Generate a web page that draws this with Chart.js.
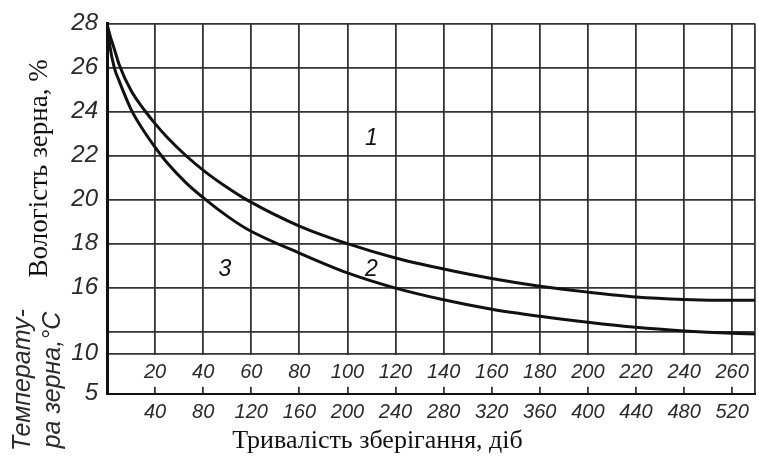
<!DOCTYPE html>
<html>
<head>
<meta charset="utf-8">
<script src="https://cdn.jsdelivr.net/npm/chart.js@4/dist/chart.umd.min.js"></script>
<style>
  html, body { margin: 0; padding: 0; background: #fff; }
  #chart { display: block; }
</style>
</head>
<body>
<canvas id="chart" width="759" height="467"></canvas>
<script>
// storage time, days (upper row of the band)
const days = [0, 1, 3, 5, 10, 16, 20, 25, 33, 41, 50, 58, 80, 100, 120, 140, 160, 180, 200, 220, 240, 260, 269.5];
// grain moisture, % - boundary between zones 1 and 2
const curve1 = [28, 27.55, 26.85, 26.15, 24.95, 24.0, 23.45, 22.83, 21.98, 21.25, 20.55, 20.0, 18.8, 18.0, 17.35, 16.85, 16.42, 16.07, 15.8, 15.58, 15.47, 15.43, 15.43];
// grain moisture, % - boundary between zones 2 and 3
const curve2 = [28, 27.1, 26.0, 25.4, 24.1, 23.0, 22.38, 21.67, 20.75, 20.0, 19.25, 18.68, 17.57, 16.67, 15.98, 15.45, 15.02, 14.7, 14.43, 14.2, 14.04, 13.93, 13.9];

const bandTicks = [20, 40, 60, 80, 100, 120, 140, 160, 180, 200, 220, 240, 260];
const storageTicks = [40, 80, 120, 160, 200, 240, 280, 320, 360, 400, 440, 480, 520];
const moistureGrid = [14, 16, 18, 20, 22, 24, 26, 28];
const moistureLabels = ['', '16', '18', '20', '22', '24', '26', '28'];
const tempTicks = [5, 10];

const zoneLabels = ['1', '2', '3'];
const zoneDays = [110, 110, 49];
const zoneMoisture = [22.75, 16.8, 16.8];

const xMax = 269.5;
const yTitle = 'Вологість зерна, %';
const tTitle = ['Температу-\u2002', 'ра зерна,°C\u2002'];
const xTitle = 'Тривалість зберігання, діб';

const ink = '#111';
const gridInk = '#333';
const labelInk = '#2a2a2a';
const sans = "'Liberation Sans', Arial, sans-serif";
const serif = "'Liberation Serif', 'Times New Roman', serif";
const tickFont = { family: sans, style: 'italic', size: 20 };
const yTickFont = { family: sans, style: 'italic', size: 24 };

// blank out the temperature band except for short tick marks at its bottom
const bandMask = {
  id: 'bandMask',
  beforeDatasetsDraw(chart) {
    const { ctx, chartArea } = chart;
    const t = chart.scales.yT;
    ctx.save();
    ctx.fillStyle = '#fff';
    ctx.fillRect(chartArea.left, t.top + 1.2, chartArea.right - chartArea.left - 1.2, t.bottom - t.top - 8.2);
    ctx.restore();
  }
};

const zoneText = {
  id: 'zoneText',
  afterDatasetsDraw(chart) {
    const { ctx, scales } = chart;
    ctx.save();
    ctx.fillStyle = ink;
    ctx.textAlign = 'center';
    ctx.textBaseline = 'middle';
    ctx.font = "italic 23px 'Liberation Sans', sans-serif";
    zoneLabels.forEach((t, i) => {
      ctx.fillText(t, scales.x.getPixelForValue(zoneDays[i]), scales.y.getPixelForValue(zoneMoisture[i]));
    });
    ctx.restore();
  }
};

new Chart(document.getElementById('chart'), {
  type: 'line',
  data: {
    datasets: [
      { data: days.map((d, i) => ({ x: d, y: curve1[i] })), yAxisID: 'y' },
      { data: days.map((d, i) => ({ x: d, y: curve2[i] })), yAxisID: 'y' }
    ]
  },
  options: {
    responsive: false,
    animation: false,
    devicePixelRatio: 1,
    layout: { padding: { left: 0, top: 19, right: 4, bottom: 0 } },
    elements: {
      point: { radius: 0 },
      line: { borderColor: ink, borderWidth: 3, tension: 0.4, cubicInterpolationMode: 'monotone' }
    },
    plugins: {
      legend: { display: false },
      tooltip: { enabled: false },
      title: {
        display: true,
        text: xTitle,
        position: 'bottom',
        align: 'center',
        color: ink,
        font: { family: serif, size: 26, weight: 'normal' },
        padding: { top: 0, bottom: 10 }
      }
    },
    scales: {
      x: {
        type: 'linear', position: 'bottom', min: 0, max: xMax, weight: 1,
        afterBuildTicks: s => { s.ticks = bandTicks.concat([xMax]).map(v => ({ value: v })); },
        afterFit: s => { s.height = 28; },
        grid: { color: gridInk, lineWidth: 1.8, drawTicks: false },
        border: { display: false },
        ticks: {
          autoSkip: false, maxRotation: 0, padding: 3, color: labelInk, font: tickFont,
          callback: v => { const i = bandTicks.indexOf(v); return i < 0 ? '' : String(storageTicks[i]); }
        }
      },
      xt: {
        type: 'linear', position: 'bottom', min: 0, max: xMax, weight: 0,
        afterBuildTicks: s => { s.ticks = bandTicks.map(v => ({ value: v })); },
        afterFit: s => { s.height = 4; },
        grid: { display: false },
        border: { display: true, color: ink, width: 2, z: 1 },
        ticks: { autoSkip: false, maxRotation: 0, mirror: true, padding: 9, color: labelInk, font: tickFont, z: 1 }
      },
      yT: {
        type: 'linear', position: 'left', stack: 'left', stackWeight: 40.5, weight: 0,
        min: 5, max: 10,
        afterBuildTicks: s => { s.ticks = tempTicks.map(v => ({ value: v })); },
        afterFit: s => { s.width = 107; },
        grid: { color: gridInk, lineWidth: 1.8, drawTicks: false },
        border: { color: ink, width: 3, z: 1 },
        ticks: { autoSkip: false, padding: 9, color: labelInk, font: yTickFont },
        title: {
          display: true, text: tTitle, color: labelInk,
          font: { family: sans, style: 'italic', size: 25, lineHeight: 1.2 },
          padding: { top: 8, bottom: 0 }
        }
      },
      y: {
        type: 'linear', position: 'left', stack: 'left', stackWeight: 334.5, weight: 1,
        min: 13, max: 28,
        afterBuildTicks: s => { s.ticks = moistureGrid.map(v => ({ value: v })); },
        afterFit: s => { s.width = 107; },
        grid: { color: gridInk, lineWidth: 1.8, drawTicks: false },
        border: { color: ink, width: 3, z: 1 },
        ticks: {
          autoSkip: false, padding: 9, color: labelInk, font: yTickFont,
          callback: v => moistureLabels[moistureGrid.indexOf(v)]
        },
        title: {
          display: true, text: '\u2003\u2002' + yTitle, color: ink,
          font: { family: serif, size: 27 },
          padding: { top: 24, bottom: 0 }
        }
      }
    }
  },
  plugins: [bandMask, zoneText]
});
</script>
</body>
</html>
